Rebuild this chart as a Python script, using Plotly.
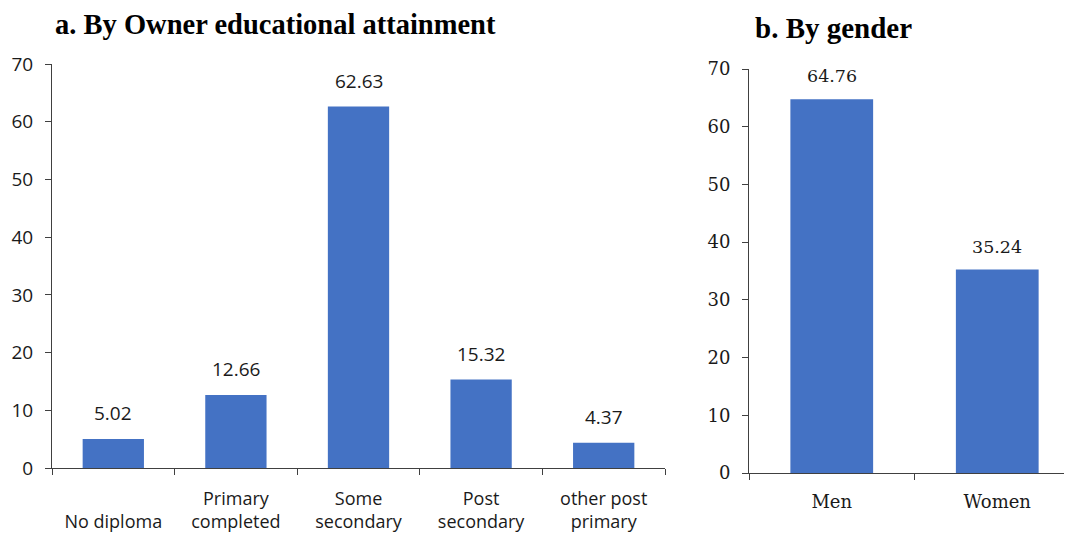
import plotly.graph_objects as go

W, H = 1072, 535
OFF = 8  # page body margin in the browser

edu_labels = ["<br>No diploma", "Primary<br>completed", "Some<br>secondary",
              "Post<br>secondary", "other post<br>primary"]
edu_values = [5.02, 12.66, 62.63, 15.32, 4.37]

gender_labels = ["Men", "Women"]
gender_values = [64.76, 35.24]

BLUE = "#4472C4"
AXIS = "#404040"
TXT = "#1a1a1a"
SANS = "Open Sans"
SERIF = "DejaVu Serif"


def px_x(x):
    return (x - OFF) / W


def px_y(y):
    return 1 - (y - OFF) / H


fig = go.Figure()
fig.add_trace(go.Bar(x=edu_labels, y=edu_values, marker=dict(color=BLUE, line_width=0),
                     xaxis="x", yaxis="y", showlegend=False))
fig.add_trace(go.Bar(x=gender_labels, y=gender_values, marker=dict(color=BLUE, line_width=0),
                     xaxis="x2", yaxis="y2", showlegend=False))

for lab, v in zip(edu_labels, edu_values):
    fig.add_annotation(x=lab, y=v, xref="x", yref="y", text=f"{v:.2f}", showarrow=False,
                       yanchor="bottom", yshift=11, font=dict(family=SANS, size=19, color=TXT))
for lab, v in zip(gender_labels, gender_values):
    fig.add_annotation(x=lab, y=v, xref="x2", yref="y2", text=f"{v:.2f}", showarrow=False,
                       yanchor="bottom", yshift=11, font=dict(family=SERIF, size=17.5, color=TXT))

# titles kept inside the paper so the top edge does not clip them
fig.add_annotation(x=px_x(275), y=1.0, xref="paper", yref="paper", showarrow=False,
                   xanchor="center", yanchor="top", borderpad=0,
                   text="<b>a. By Owner educational attainment</b>",
                   font=dict(family="Liberation Serif", size=28.5, color="black"))
fig.add_annotation(x=px_x(833), y=px_y(28), xref="paper", yref="paper", showarrow=False,
                   xanchor="center", yanchor="middle", borderpad=0,
                   text="<b>b. By gender</b>",
                   font=dict(family="Liberation Serif", size=29, color="black"))

xcommon = dict(showline=True, linecolor=AXIS, linewidth=1, ticks="outside", ticklen=6,
               tickcolor=AXIS, tickson="boundaries", showgrid=False, zeroline=False,
               automargin=False)
ycommon = dict(range=[0, 70], dtick=10, showline=True, linecolor=AXIS, linewidth=1,
               ticks="outside", ticklen=6, tickcolor=AXIS, showgrid=False, zeroline=False,
               ticklabelstandoff=8, automargin=False)

fig.update_layout(
    width=W, height=H,
    margin=dict(l=0, r=0, t=0, b=0, pad=0, autoexpand=False),
    paper_bgcolor="white", plot_bgcolor="white",
    bargap=0.5,
    xaxis=dict(**xcommon, domain=[px_x(52), px_x(665)], range=[-0.5, 4.5],
               tickfont=dict(family=SANS, size=18, color=TXT), ticklabelstandoff=14),
    yaxis=dict(**ycommon, domain=[px_y(468), px_y(64)], anchor="x",
               tickfont=dict(family=SANS, size=19, color=TXT)),
    xaxis2=dict(**xcommon, domain=[px_x(749), 1.0], range=[-0.5, 1.5], anchor="y2",
                tickfont=dict(family=SERIF, size=18, color=TXT), ticklabelstandoff=12),
    yaxis2=dict(**ycommon, domain=[px_y(473), px_y(69)], anchor="x2",
                tickfont=dict(family=SERIF, size=18, color=TXT)),
)

fig.write_html("out.html")
